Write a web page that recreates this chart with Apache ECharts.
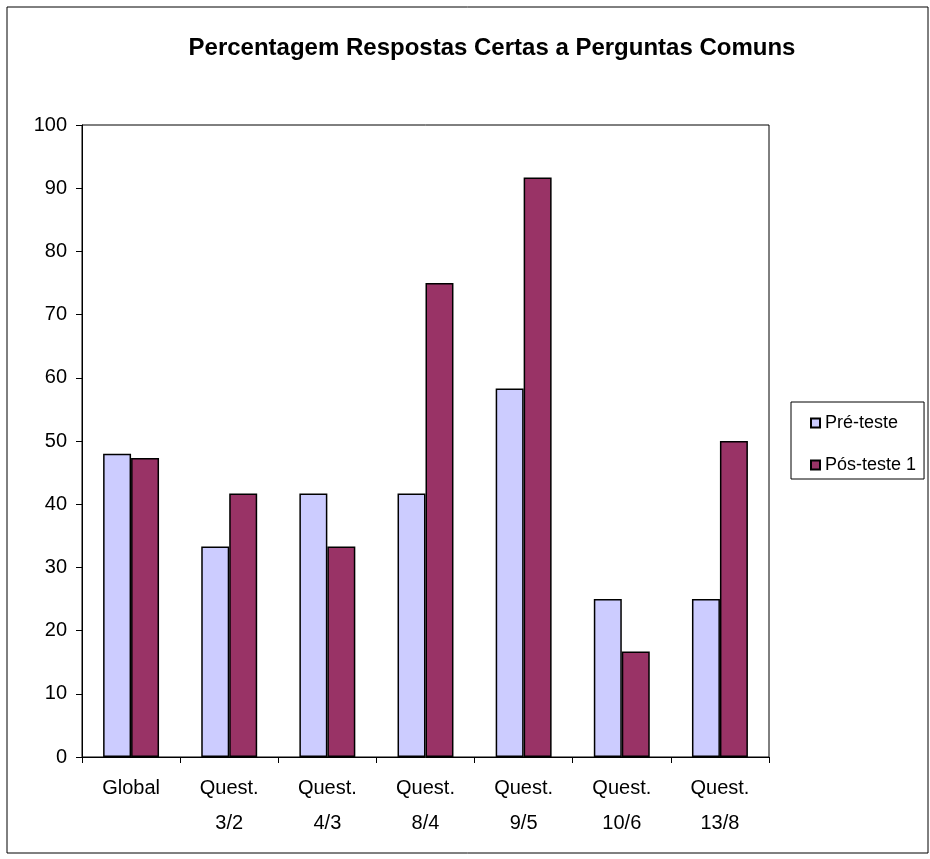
<!DOCTYPE html>
<html>
<head>
<meta charset="utf-8">
<script src="https://cdn.jsdelivr.net/npm/echarts@6/dist/echarts.min.js"></script>
<style>
html,body{margin:0;padding:0;background:#fff;}
#main{width:930px;height:859px;}
</style>
</head>
<body>
<div id="main"></div>
<script>
var categories = ['Global', 'Quest.\n3/2', 'Quest.\n4/3', 'Quest.\n8/4', 'Quest.\n9/5', 'Quest.\n10/6', 'Quest.\n13/8'];
var preTeste = [48, 33.3, 41.7, 41.7, 58.3, 25, 25];
var posTeste1 = [47.3, 41.7, 33.3, 75, 91.7, 16.7, 50];

var myChart = echarts.init(document.getElementById('main'));

var option = {
    backgroundColor: '#fff',
    animation: false,
    textStyle: {fontFamily: 'Liberation Sans, Arial, sans-serif'},
    title: {
        text: 'Percentagem Respostas Certas a Perguntas Comuns',
        left: 487,
        textAlign: 'center',
        top: 31,
        textStyle: {
            fontSize: 24,
            fontWeight: 'bold',
            color: '#000',
            fontFamily: 'Liberation Sans, Arial, sans-serif'
        }
    },
    graphic: [{
        type: 'rect',
        shape: {x: 7, y: 7, width: 921, height: 846},
        style: {fill: 'none', stroke: '#000', lineWidth: 1}
    }],
    legend: {
        orient: 'vertical',
        left: 791,
        top: 402,
        width: 136,
        padding: [11, 8, 4, 19],
        itemGap: 22,
        itemWidth: 9,
        itemHeight: 9,
        borderColor: '#000',
        borderWidth: 1,
        icon: 'rect',
        textStyle: {fontSize: 18, lineHeight: 20, color: '#000', padding: [0, 0, 0, 0]},
        data: ['Pré-teste', 'Pós-teste 1']
    },
    grid: {
        left: 82,
        right: 161,
        top: 125,
        bottom: 102,
        show: true,
        borderColor: '#000',
        borderWidth: 1
    },
    xAxis: {
        type: 'category',
        data: categories,
        axisLine: {lineStyle: {color: '#000', width: 1}},
        axisTick: {show: true, length: 6, lineStyle: {color: '#000'}},
        axisLabel: {
            color: '#000',
            fontSize: 20,
            lineHeight: 35,
            margin: 14,
            interval: 0
        }
    },
    yAxis: {
        type: 'value',
        min: 0,
        max: 100,
        interval: 10,
        splitLine: {show: false},
        axisLine: {show: true, lineStyle: {color: '#000', width: 1}},
        axisTick: {show: true, length: 6, lineStyle: {color: '#000'}},
        axisLabel: {color: '#000', fontSize: 20, margin: 15}
    },
    series: [
        {
            name: 'Pré-teste',
            type: 'bar',
            data: preTeste,
            barGap: '0%',
            barCategoryGap: '43%',
            itemStyle: {color: '#CCCCFF', borderColor: '#000', borderWidth: 1.5}
        },
        {
            name: 'Pós-teste 1',
            type: 'bar',
            data: posTeste1,
            itemStyle: {color: '#993366', borderColor: '#000', borderWidth: 1.5}
        }
    ]
};

myChart.setOption(option);
</script>
</body>
</html>
